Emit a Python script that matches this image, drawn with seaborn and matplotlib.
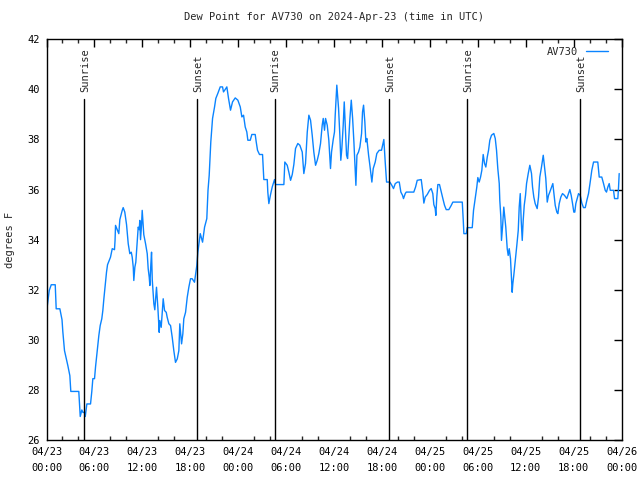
import matplotlib
matplotlib.use("Agg")
import matplotlib.pyplot as plt
from matplotlib.ticker import MultipleLocator
import seaborn as sns
import pandas as pd

# hours since 2024-04-23 00:00 UTC
hours = [0.05, 0.34, 0.59, 1.09, 1.21, 1.67, 1.82, 1.94, 2.04, 2.25, 2.47, 2.67, 2.92, 3.04, 4.04, 4.13, 4.22, 4.42, 4.57, 4.76, 4.85,
         5.05, 5.51, 5.67, 5.80, 6.01, 6.14, 6.35, 6.55, 6.72, 6.92, 7.05, 7.18, 7.35, 7.51, 7.64, 8.01, 8.23, 8.51, 8.58, 8.64,
         8.85, 9.05, 9.18, 9.48, 9.60, 9.80, 10.02, 10.23, 10.43, 10.61, 10.73, 10.86, 10.93, 11.06, 11.18, 11.36, 11.48, 11.61,
         11.68, 11.77, 11.90, 11.98, 12.06, 12.18, 12.40, 12.61, 12.73, 12.86, 12.94, 13.06, 13.15, 13.24, 13.44, 13.56, 13.77,
         13.94, 14.11, 14.19, 14.36, 14.61, 14.78, 14.99, 15.11, 15.32, 15.53, 15.74, 15.94, 16.15, 16.37, 16.57, 16.69, 16.91,
         17.07, 17.19, 17.41, 17.62, 17.82, 18.03, 18.24, 18.53, 18.82, 18.95, 19.03, 19.25, 19.54, 19.79, 20.07, 20.22, 20.37,
         20.57, 20.79, 21.04, 21.20, 21.45, 21.75, 22.04, 22.16, 22.38, 22.58, 22.79, 23.04, 23.29, 23.63, 23.96, 24.26, 24.46,
         24.67, 24.88, 25.08, 25.21, 25.51, 25.71, 26.13, 26.26, 26.42, 26.67, 27.05, 27.21, 27.64, 27.71, 27.84, 28.05, 28.26,
         28.55, 28.68, 29.72, 29.84, 30.14, 30.34, 30.56, 30.77, 30.97, 31.18, 31.47, 31.72, 32.02, 32.22, 32.43, 32.65, 32.85,
         33.06, 33.27, 33.47, 33.69, 33.90, 34.10, 34.31, 34.52, 34.65, 34.81, 34.94, 35.15, 35.35, 35.56, 35.69, 35.90, 36.06,
         36.15, 36.35, 36.57, 36.73, 36.85, 36.98, 37.15, 37.28, 37.40, 37.57, 37.70, 37.82, 37.99, 38.16, 38.33, 38.49, 38.62,
         38.74, 38.87, 39.07, 39.24, 39.45, 39.57, 39.70, 39.86, 39.99, 40.11, 40.33, 40.49, 40.74, 40.91, 41.16, 41.36, 41.66,
         41.95, 42.08, 42.24, 42.41, 42.58, 42.99, 43.24, 43.45, 43.67, 43.95, 44.17, 44.37, 44.58, 44.70, 44.92, 45.04, 45.99,
         46.21, 46.42, 46.92, 47.12, 47.25, 47.42, 47.67, 47.96, 48.17, 48.37, 48.50, 48.67, 48.75, 48.87, 49.00, 49.21, 49.43,
         49.63, 49.84, 50.05, 50.38, 50.68, 50.88, 52.06, 52.18, 52.26, 52.56, 52.68, 53.31, 53.47, 53.68, 53.88, 54.01, 54.18,
         54.35, 54.51, 54.68, 54.85, 55.01, 55.19, 55.35, 55.51, 55.72, 56.01, 56.19, 56.35, 56.51, 56.69, 56.76, 56.89, 56.97,
         57.10, 57.26, 57.39, 57.51, 57.69, 57.81, 57.94, 58.10, 58.23, 58.31, 58.39, 58.51, 58.64, 58.77, 58.89, 59.07, 59.19,
         59.32, 59.44, 59.57, 59.69, 59.82, 59.98, 60.11, 60.32, 60.52, 60.73, 60.86, 61.02, 61.19, 61.44, 61.61, 61.77, 61.98,
         62.20, 62.36, 62.52, 62.70, 62.86, 63.02, 63.24, 63.40, 63.52, 63.70, 63.90, 64.03, 64.20, 64.40, 64.61, 64.86, 65.15,
         65.36, 65.53, 65.70, 65.87, 66.03, 66.15, 66.28, 66.45, 66.62, 66.83, 67.03, 67.24, 67.46, 67.66, 67.87, 68.08, 68.28,
         68.50, 69.03, 69.21, 69.53, 69.75, 69.96, 70.12, 70.29, 70.46, 70.59, 71.00, 71.13, 71.54, 71.63, 71.71]

dewpoint = [31.24, 31.97, 32.2, 32.2, 31.24, 31.24, 31.0, 30.8, 30.33, 29.57, 29.25, 28.97, 28.57, 27.94, 27.94, 27.44, 26.94, 27.2, 27.1, 27.1, 26.94,
            27.44, 27.44, 27.94, 28.45, 28.45, 28.93, 29.57, 30.17, 30.57, 30.84, 31.17, 31.64, 32.17, 32.7, 33.0, 33.3, 33.64, 33.6, 33.97, 34.57,
            34.4, 34.24, 34.8, 35.17, 35.28, 35.1, 34.6, 33.84, 33.44, 33.5, 33.3, 32.9, 32.37, 32.9, 33.1, 33.97, 34.5, 34.4,
            34.77, 34.0, 34.6, 35.17, 34.77, 34.2, 33.84, 33.44, 32.84, 32.5, 32.17, 33.0, 33.5, 32.4, 31.44, 31.2, 32.1,
            31.3, 30.3, 30.77, 30.5, 31.64, 31.17, 31.1, 30.9, 30.64, 30.57, 30.1, 29.57, 29.1, 29.24, 29.57, 30.64, 29.84,
            30.24, 30.84, 31.1, 31.7, 32.1, 32.44, 32.44, 32.3, 32.97, 33.5, 33.7, 34.24, 33.9, 34.5, 34.84, 35.97, 36.57,
            37.9, 38.84, 39.3, 39.64, 39.84, 40.1, 40.1, 39.9, 40.0, 40.1, 39.64, 39.17, 39.5, 39.66, 39.57, 39.3, 38.9,
            38.97, 38.5, 38.3, 37.97, 37.97, 38.2, 38.2, 37.9, 37.57, 37.4, 37.4, 36.4, 36.4, 35.9, 35.44, 35.8, 36.1,
            36.4, 36.2, 36.2, 37.1, 36.97, 36.7, 36.37, 36.6, 37.0, 37.64, 37.84, 37.77, 37.5, 36.64, 37.04, 38.3, 38.97,
            38.77, 38.17, 37.5, 36.97, 37.17, 37.44, 37.84, 38.57, 38.84, 38.37, 38.84, 38.57, 37.97, 36.84, 37.5, 38.0, 38.3,
            38.97, 40.17, 39.24, 38.17, 37.17, 37.64, 38.57, 39.5, 38.64, 37.37, 37.24, 37.9, 38.84, 39.57, 38.84, 37.9, 36.97,
            36.17, 37.37, 37.5, 37.7, 38.24, 39.1, 39.37, 38.7, 37.9, 38.04, 37.37, 36.97, 36.3, 36.84, 37.1, 37.44, 37.57,
            37.57, 37.77, 38.0, 37.1, 36.3, 36.3, 36.17, 36.04, 36.24, 36.3, 36.3, 35.9, 35.77, 35.64, 35.84, 35.9, 35.9,
            36.1, 36.37, 36.4, 35.9, 35.46, 35.7, 35.8, 35.97, 36.04, 35.84, 35.4, 35.24, 34.97, 35.7, 36.2, 36.2, 35.9,
            35.64, 35.37, 35.2, 35.2, 35.37, 35.5, 35.5, 34.8, 34.24, 34.24, 34.48, 34.48, 35.17, 35.64, 36.1, 36.48, 36.3,
            36.5, 36.77, 37.4, 37.04, 36.9, 37.3, 37.57, 37.97, 38.17, 38.24, 38.04, 37.57, 36.84, 36.24, 35.57, 34.9, 33.97,
            34.5, 35.3, 34.9, 34.5, 33.64, 33.37, 33.64, 33.24, 32.37, 31.9, 32.24, 32.57, 32.97, 33.37, 33.77, 34.37, 35.3,
            35.84, 34.77, 33.97, 34.77, 35.37, 35.77, 36.24, 36.64, 36.97, 36.64, 36.1, 35.7, 35.44, 35.24, 35.7, 36.5, 36.9,
            37.37, 36.9, 36.44, 35.5, 35.77, 35.9, 36.1, 36.24, 35.9, 35.37, 35.1, 35.04, 35.44, 35.7, 35.84, 35.77, 35.64,
            35.84, 36.0, 35.77, 35.44, 35.1, 35.1, 35.44, 35.64, 35.84, 35.77, 35.46, 35.28, 35.28, 35.57, 35.84, 36.3, 36.77,
            37.1, 37.1, 36.5, 36.5, 36.24, 35.97, 35.9, 36.1, 36.24, 35.97, 35.97, 35.64, 35.64, 36.1, 36.64]

event_hours = [4.67, 18.79, 28.55, 42.86, 52.68, 66.78]
event_labels = ["Sunrise", "Sunset", "Sunrise", "Sunset", "Sunrise", "Sunset"]

tick_hours = [0, 6, 12, 18, 24, 30, 36, 42, 48, 54, 60, 66, 72]
tick_labels = ["04/23\n00:00", "04/23\n06:00", "04/23\n12:00", "04/23\n18:00",
               "04/24\n00:00", "04/24\n06:00", "04/24\n12:00", "04/24\n18:00",
               "04/25\n00:00", "04/25\n06:00", "04/25\n12:00", "04/25\n18:00",
               "04/26\n00:00"]

station = "AV730"

sns.set_style("white")
plt.rcParams['font.family'] = ['DejaVu Sans Mono']
FS = 7.5

df = pd.DataFrame({"hours": hours, "dewpoint": dewpoint})

fig = plt.figure(figsize=(6.4, 4.8), dpi=100)
ax = fig.add_axes([0.0727, 0.0833, 0.8984, 0.8348])

sns.lineplot(data=df, x="hours", y="dewpoint", ax=ax, color="#0a84ff",
             linewidth=1.0, estimator=None, sort=False, label=station)

for h, lab in zip(event_hours, event_labels):
    ax.plot([h, h], [26, 39.6], color="black", linewidth=1.0)
    ax.text(h + 0.15, 39.88, lab, rotation=90, ha="center", va="bottom", fontsize=FS)

ax.set_xlim(0, 72)
ax.set_ylim(26, 42)
ax.set_xticks(tick_hours)
ax.set_xticklabels(tick_labels, fontsize=FS, linespacing=1.75)
ax.xaxis.set_minor_locator(MultipleLocator(2))
ax.set_yticks(range(26, 43, 2))
ax.set_yticklabels([str(v) for v in range(26, 43, 2)], fontsize=FS)
ax.tick_params(axis="both", which="major", direction="in", length=6, width=1,
               top=True, right=True, pad=5, colors="black")
ax.tick_params(axis="x", which="minor", direction="in", length=3, width=1,
               top=True, bottom=True)
for s in ax.spines.values():
    s.set_color("black")
    s.set_linewidth(1.0)

ax.set_xlabel("")
ax.set_ylabel("degrees F", fontsize=FS, labelpad=9)
ax.set_title("Dew Point for AV730 on 2024-Apr-23 (time in UTC)", fontsize=FS, pad=14)

leg = ax.legend(loc="upper right", frameon=False, fontsize=FS, markerfirst=False,
                handlelength=2.2, borderaxespad=0.3, handletextpad=0.7,
                bbox_to_anchor=(0.99, 1.0))

fig.savefig("out.png", dpi=100)
